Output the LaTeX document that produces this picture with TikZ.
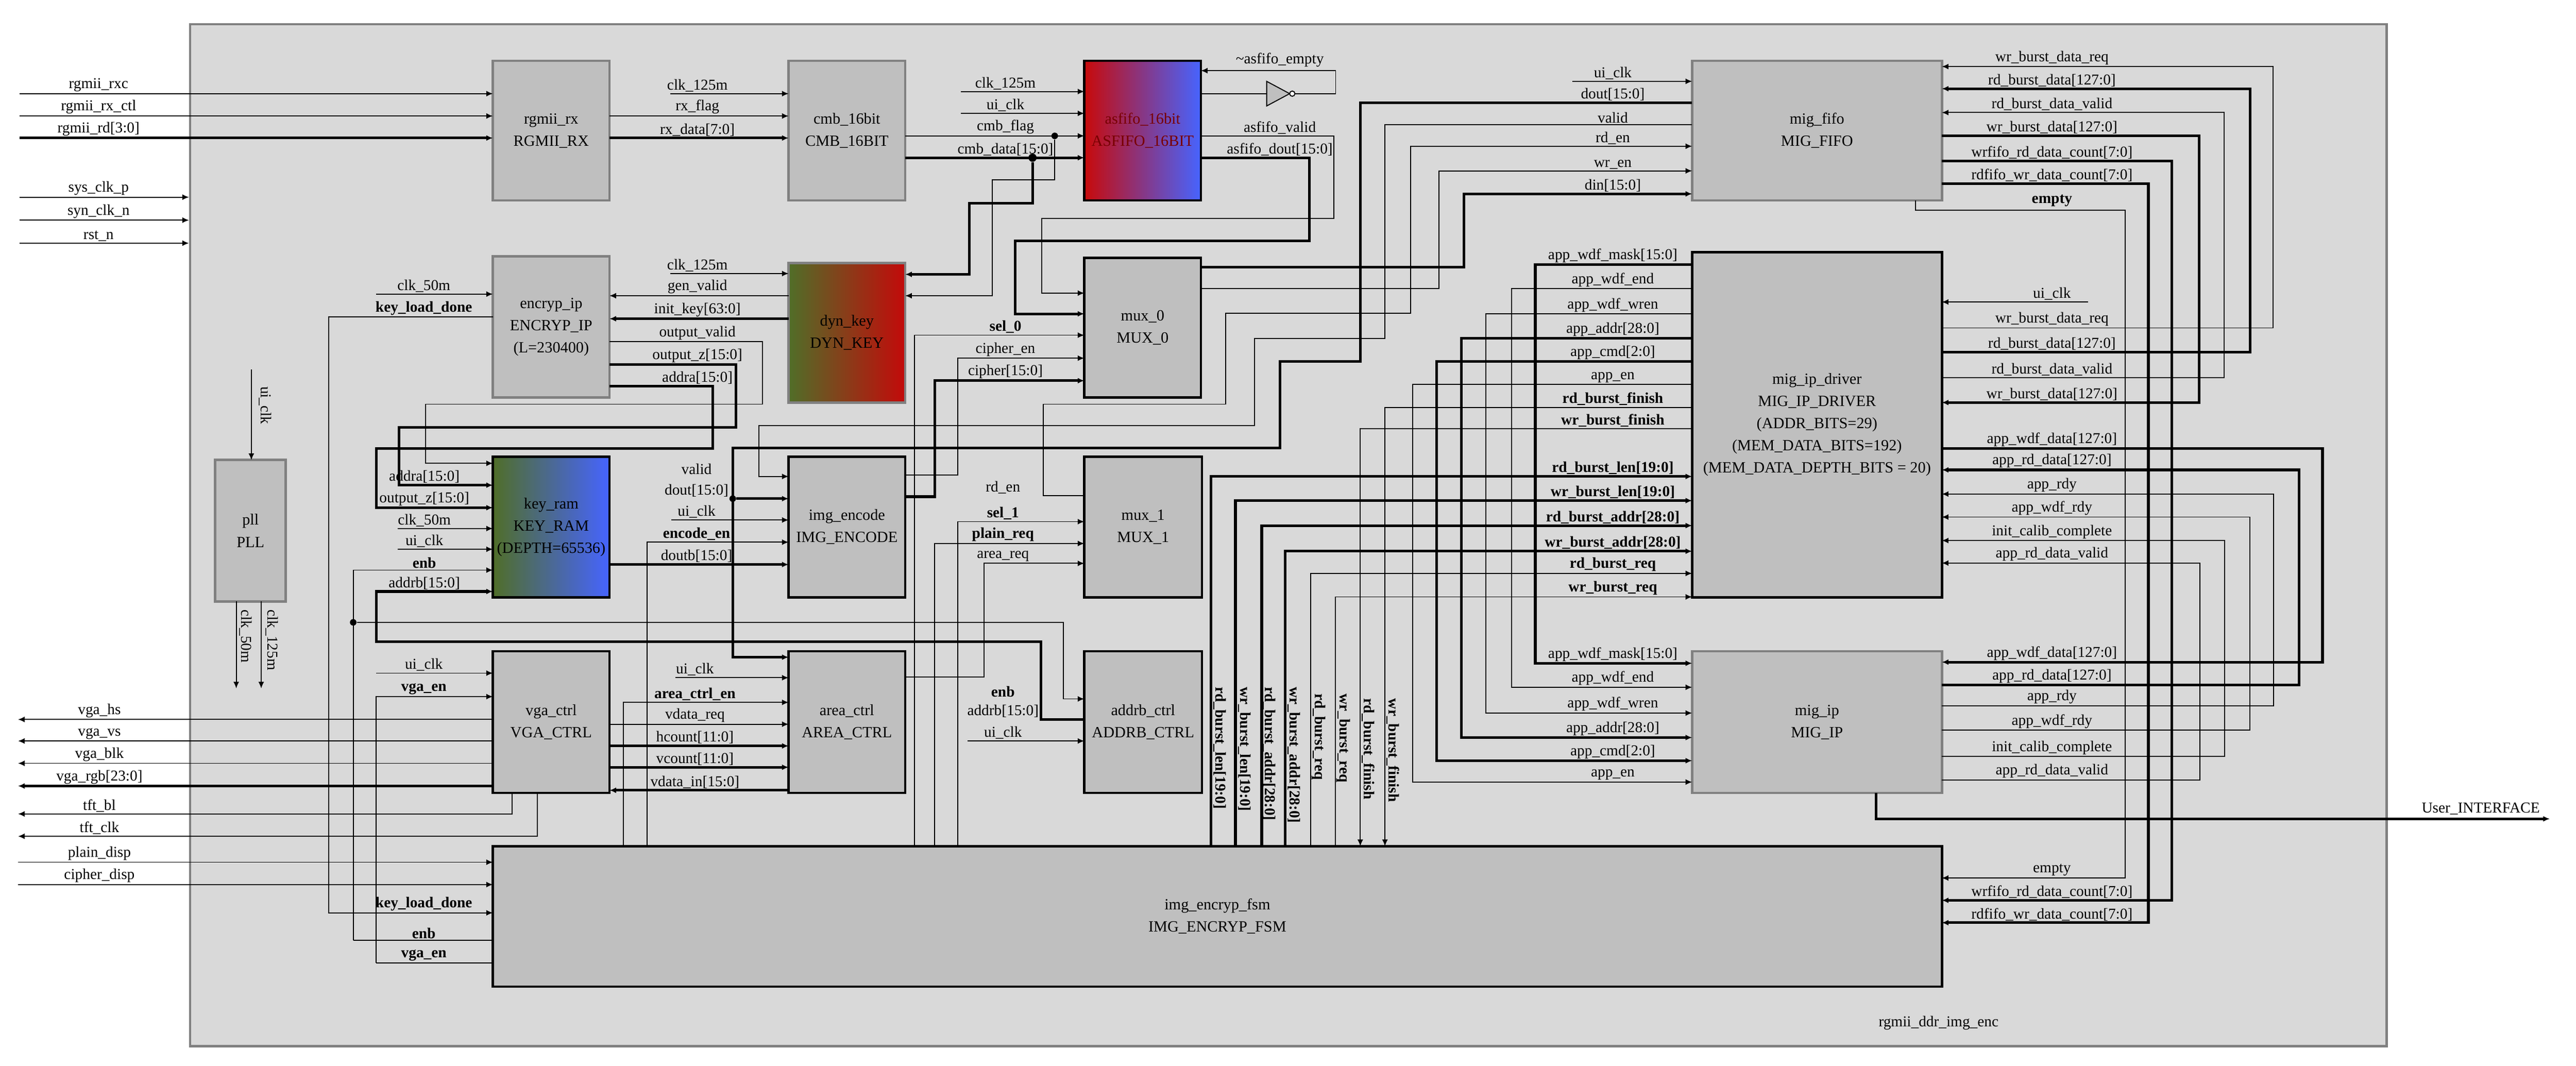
\documentclass[tikz,border=0pt]{standalone}
\usepackage{fontspec}
\setmainfont{Liberation Serif}
\usetikzlibrary{arrows.meta}
\definecolor{boxg}{RGB}{191,191,191}
\definecolor{bordg}{RGB}{128,128,128}
\definecolor{bgg}{RGB}{217,217,217}
\definecolor{gred}{RGB}{200,10,10}
\definecolor{gpink}{RGB}{225,175,175}
\definecolor{gblue}{RGB}{70,100,255}
\definecolor{ggreen}{RGB}{80,110,40}
\definecolor{glgreen}{RGB}{195,215,160}
\definecolor{gred2}{RGB}{195,10,10}
\definecolor{dred}{RGB}{120,0,0}
\begin{document}
\begin{tikzpicture}[x=1pt,y=-1pt,
  >={Latex[length=4pt,width=3.5pt]},
  s/.style={line width=0.6pt},
  S/.style={line width=1.6pt},
  lab/.style={font=\fontsize{9.2}{10}\selectfont,inner sep=1pt,anchor=south},
  blab/.style={lab,font=\fontsize{9.2}{10}\selectfont\bfseries},
  vlab/.style={font=\fontsize{9.2}{10}\selectfont\bfseries,inner sep=1pt,anchor=west,rotate=-90},
  box/.style={draw=black,line width=1.5pt,fill=boxg,anchor=north west,inner sep=0pt,outer sep=0pt,align=center,font=\fontsize{9.5}{13.5}\selectfont},
  gbox/.style={box,draw=bordg},
  dot/.style={circle,fill=black,inner sep=0pt,minimum size=4pt}]
\newcounter{lb}
\newcommand\lab[4][lab]{\stepcounter{lb}\node[#1] (l\thelb) at (#2,#3) {#4};}
\useasboundingbox (0,0) rectangle (1568,648.6);
% outer
\node[draw=bordg,line width=1.5pt,fill=bgg,anchor=north west,minimum width=1337pt,minimum height=622pt,inner sep=0pt] (top) at (115,14) {};
\lab{1180}{628}{rgmii\_ddr\_img\_enc}
% boxes
\node[gbox,minimum width=71pt,minimum height=85pt] (rgmii) at (300,37) {rgmii\_rx\\RGMII\_RX};
\node[gbox,minimum width=71pt,minimum height=85pt] (cmb) at (480,37) {cmb\_16bit\\CMB\_16BIT};
\node[box,minimum width=71pt,minimum height=85pt,left color=gred,middle color=gpink,right color=gblue,text=dred] (asfifo) at (660,37) {asfifo\_16bit\\ASFIFO\_16BIT};
\node[gbox,minimum width=152pt,minimum height=85pt] (migfifo) at (1030,37) {mig\_fifo\\MIG\_FIFO};
\node[gbox,minimum width=71pt,minimum height=86pt] (encryp) at (300,156) {encryp\_ip\\ENCRYP\_IP\\(L=230400)};
\node[gbox,minimum width=71pt,minimum height=85pt,left color=ggreen,middle color=glgreen,right color=gred2] (dynkey) at (480,160) {dyn\_key\\DYN\_KEY};
\node[box,minimum width=71pt,minimum height=85pt] (mux0) at (660,157) {mux\_0\\MUX\_0};
\node[box,minimum width=152pt,minimum height=210pt] (driver) at (1030,153.5) {mig\_ip\_driver\\MIG\_IP\_DRIVER\\(ADDR\_BITS=29)\\(MEM\_DATA\_BITS=192)\\(MEM\_DATA\_DEPTH\_BITS = 20)};
\node[box,minimum width=71pt,minimum height=85.5pt,left color=ggreen,middle color=glgreen,right color=gblue] (keyram) at (300,278) {key\_ram\\KEY\_RAM\\(DEPTH=65536)};
\node[box,minimum width=71pt,minimum height=85.5pt] (imgenc) at (480,278) {img\_encode\\IMG\_ENCODE};
\node[box,minimum width=71.6pt,minimum height=85.5pt] (mux1) at (660,278) {mux\_1\\MUX\_1};
\node[gbox,minimum width=43pt,minimum height=86pt] (pll) at (131,280) {pll\\PLL};
\node[box,minimum width=71pt,minimum height=86.2pt] (vga) at (300,396.4) {vga\_ctrl\\VGA\_CTRL};
\node[box,minimum width=71pt,minimum height=86.2pt] (area) at (480,396.4) {area\_ctrl\\AREA\_CTRL};
\node[box,minimum width=71.6pt,minimum height=86.2pt] (addrb) at (660,396.4) {addrb\_ctrl\\ADDRB\_CTRL};
\node[gbox,minimum width=152pt,minimum height=86.2pt] (migip) at (1030,396.4) {mig\_ip\\MIG\_IP};
\node[box,minimum width=882pt,minimum height=85.5pt] (fsm) at (300,515) {img\_encryp\_fsm\\IMG\_ENCRYP\_FSM};
% ---- left inputs
\coordinate (i1) at (12,57);\coordinate (i2) at (12,70.6);\coordinate (i3) at (12,84);
\draw[s,->] (i1) -- (300,57); \lab{60}{57}{rgmii\_rxc}
\draw[s,->] (i2) -- (300,70.6); \lab{60}{70.6}{rgmii\_rx\_ctl}
\draw[S,->] (i3) -- (300,84); \lab{60}{84}{rgmii\_rd[3:0]}
\draw[s,->] (12,120) -- (115,120); \lab{60}{120}{sys\_clk\_p}
\draw[s,->] (12,134) -- (115,134); \lab{60}{134}{syn\_clk\_n}
\draw[s,->] (12,148) -- (115,148); \lab{60}{148}{rst\_n}
% rgmii -> cmb
\draw[s,->] (408,57) -- (480,57); \lab{424.5}{57}{clk\_125m}
\draw[s,->] (371,70.6) -- (480,70.6); \lab{424.5}{70.6}{rx\_flag}
\draw[S,->] (371,84) -- (480,84); \lab{424.5}{84}{rx\_data[7:0]}
% cmb -> asfifo
\draw[s,->] (585,55.7) -- (660,55.7); \lab{612}{55.7}{clk\_125m}
\draw[s,->] (585,69) -- (660,69); \lab{612}{69}{ui\_clk}
\draw[s,->] (551,82.7) -- (660,82.7); \lab{612}{82.7}{cmb\_flag}
\draw[S,->] (551,96) -- (660,96); \lab{612}{96}{cmb\_data[15:0]}
\node[dot] (d1) at (642,82.7) {}; \node[dot,minimum size=5pt] (d2) at (628.5,96) {};
\draw[s,->] (d1) -- (642,109.5) -- (604,109.5) -- (604,180) -- (551,180);
\draw[S,->] (d2) -- (628.5,123.6) -- (590,123.6) -- (590,167) -- (551,167);
% inverter loop
\draw[s] (731,57) -- (771,57);
\draw[s,fill=boxg] (771,49.5) -- (785,57) -- (771,64.5) -- cycle;
\draw[s,fill=white] (786.6,57) circle (1.6);
\draw[s,->] (788.2,57) -- (813,57) -- (813,43) -- (731,43);
\lab{779}{42}{\textasciitilde asfifo\_empty}
\draw[s,->] (731,82.7) -- (812,82.7) -- (812,133) -- (634,133) -- (634,178.4) -- (660,178.4); \lab{779}{82.7}{asfifo\_valid}
\draw[S,->] (731,96) -- (797,96) -- (797,146.7) -- (618,146.7) -- (618,191) -- (660,191); \lab{779}{96}{asfifo\_dout[15:0]}
\draw[s,->] (556.5,515) -- (556.5,204) -- (660,204); \lab[blab]{612}{204}{sel\_0}
\draw[s,->] (551,289) -- (583,289) -- (583,218) -- (660,218); \lab{612}{218}{cipher\_en}
\draw[S,->] (551,302.3) -- (569,302.3) -- (569,231.7) -- (660,231.7); \lab{612}{231.7}{cipher[15:0]}
% mux0 / mux1 -> mig_fifo
\draw[s,->] (957,49.5) -- (1030,49.5); \lab{981.7}{49.5}{ui\_clk}
\draw[S,->] (1030,62.5) -- (828,62.5) -- (828,220) -- (779,220) -- (779,272.6) -- (446,272.6) -- (446,400) -- (480,400); \lab{981.7}{62.5}{dout[15:0]}
\node[dot] (d3) at (446,303.5) {};
\draw[S,->] (d3) -- (480,303.5);
\draw[s,->] (1030,76) -- (843,76) -- (843,206) -- (763.5,206) -- (763.5,259) -- (462,259) -- (462,290) -- (480,290); \lab{981.7}{76}{valid}
\draw[s,->] (660,301.6) -- (635,301.6) -- (635,246) -- (746,246) -- (746,190.6) -- (858.5,190.6) -- (858.5,89) -- (1030,89); \lab{981.7}{89}{rd\_en}
\draw[s,->] (731,175.7) -- (876,175.7) -- (876,104) -- (1030,104); \lab{981.7}{104}{wr\_en}
\draw[S,->] (731,162.5) -- (891,162.5) -- (891,118) -- (1030,118); \lab{981.7}{118}{din[15:0]}
% mig_fifo right <-> driver
\draw[s,->] (1182,199.6) -- (1383.7,199.6) -- (1383.7,40.5) -- (1182,40.5);
\lab{1249}{40.5}{wr\_burst\_data\_req}\lab{1249}{199.6}{wr\_burst\_data\_req}
\draw[S,->] (1182,214.4) -- (1369.5,214.4) -- (1369.5,54) -- (1182,54);
\lab{1249}{54}{rd\_burst\_data[127:0]}\lab{1249}{214.4}{rd\_burst\_data[127:0]}
\draw[s,->] (1182,230) -- (1353.8,230) -- (1353.8,68.5) -- (1182,68.5);
\lab{1249}{68.5}{rd\_burst\_data\_valid}\lab{1249}{230}{rd\_burst\_data\_valid}
\draw[S,->] (1182,82.7) -- (1338.6,82.7) -- (1338.6,245) -- (1182,245);
\lab{1249}{82.7}{wr\_burst\_data[127:0]}\lab{1249}{245}{wr\_burst\_data[127:0]}
\draw[S,->] (1182,98) -- (1322,98) -- (1322,548) -- (1182,548);
\lab{1249}{98}{wrfifo\_rd\_data\_count[7:0]}\lab{1249}{548}{wrfifo\_rd\_data\_count[7:0]}
\draw[S,->] (1182,111.7) -- (1307.7,111.7) -- (1307.7,561.6) -- (1182,561.6);
\lab{1249}{111.7}{rdfifo\_wr\_data\_count[7:0]}\lab{1249}{561.6}{rdfifo\_wr\_data\_count[7:0]}
\draw[s,->] (1166,122) -- (1166,128) -- (1293.7,128) -- (1293.7,534.4) -- (1182,534.4);
\lab[blab]{1249}{127}{empty}\lab{1249}{534.4}{empty}
\draw[s,->] (1271,183.8) -- (1182,183.8); \lab{1249}{183.8}{ui\_clk}
% driver right <-> mig_ip
\draw[S,->] (1182,273) -- (1413.7,273) -- (1413.7,403) -- (1182,403);
\lab{1249}{273}{app\_wdf\_data[127:0]}\lab{1249}{403}{app\_wdf\_data[127:0]}
\draw[S,->] (1182,417) -- (1399.5,417) -- (1399.5,286) -- (1182,286);
\lab{1249}{286}{app\_rd\_data[127:0]}\lab{1249}{417}{app\_rd\_data[127:0]}
\draw[s,->] (1182,429.6) -- (1384,429.6) -- (1384,300.7) -- (1182,300.7);
\lab{1249}{300.7}{app\_rdy}\lab{1249}{429.6}{app\_rdy}
\draw[s,->] (1182,444.5) -- (1369.6,444.5) -- (1369.6,314.7) -- (1182,314.7);
\lab{1249}{314.7}{app\_wdf\_rdy}\lab{1249}{444.5}{app\_wdf\_rdy}
\draw[s,->] (1182,460.4) -- (1354,460.4) -- (1354,329) -- (1182,329);
\lab{1249}{329}{init\_calib\_complete}\lab{1249}{460.4}{init\_calib\_complete}
\draw[s,->] (1182,474.8) -- (1339,474.8) -- (1339,342.7) -- (1182,342.7);
\lab{1249}{342.7}{app\_rd\_data\_valid}\lab{1249}{474.8}{app\_rd\_data\_valid}
% driver left -> mig_ip
\draw[S,->] (1030,161) -- (934.5,161) -- (934.5,403.7) -- (1030,403.7);
\lab{981.7}{161}{app\_wdf\_mask[15:0]}\lab{981.7}{403.7}{app\_wdf\_mask[15:0]}
\draw[s,->] (1030,175.7) -- (920,175.7) -- (920,418.3) -- (1030,418.3);
\lab{981.7}{175.7}{app\_wdf\_end}\lab{981.7}{418.3}{app\_wdf\_end}
\draw[s,->] (1030,191) -- (904.5,191) -- (904.5,434) -- (1030,434);
\lab{981.7}{191}{app\_wdf\_wren}\lab{981.7}{434}{app\_wdf\_wren}
\draw[S,->] (1030,206) -- (889.6,206) -- (889.6,448.9) -- (1030,448.9);
\lab{981.7}{206}{app\_addr[28:0]}\lab{981.7}{448.9}{app\_addr[28:0]}
\draw[S,->] (1030,220) -- (874.6,220) -- (874.6,463) -- (1030,463);
\lab{981.7}{220}{app\_cmd[2:0]}\lab{981.7}{463}{app\_cmd[2:0]}
\draw[s,->] (1030,234) -- (860,234) -- (860,476) -- (1030,476);
\lab{981.7}{234}{app\_en}\lab{981.7}{476}{app\_en}
\draw[s,->] (1030,248) -- (843,248) -- (843,515); \lab[blab]{981.7}{248}{rd\_burst\_finish}
\draw[s,->] (1030,261) -- (828,261) -- (828,515); \lab[blab]{981.7}{261}{wr\_burst\_finish}
% fsm -> driver
\draw[S,->] (737,515) -- (737,290) -- (1030,290); \lab[blab]{981.7}{290}{rd\_burst\_len[19:0]}
\draw[S,->] (752,515) -- (752,304.7) -- (1030,304.7); \lab[blab]{981.7}{304.7}{wr\_burst\_len[19:0]}
\draw[S,->] (768,515) -- (768,319.9) -- (1030,319.9); \lab[blab]{981.7}{319.9}{rd\_burst\_addr[28:0]}
\draw[S,->] (782.3,515) -- (782.3,335.5) -- (1030,335.5); \lab[blab]{981.7}{335.5}{wr\_burst\_addr[28:0]}
\draw[s,->] (797.8,515) -- (797.8,349) -- (1030,349); \lab[blab]{981.7}{349}{rd\_burst\_req}
\draw[s,->] (812.7,515) -- (812.7,363.3) -- (1030,363.3); \lab[blab]{981.7}{363.3}{wr\_burst\_req}
\lab[vlab]{742.5}{417}{rd\_burst\_len[19:0]}
\lab[vlab]{757.5}{417}{wr\_burst\_len[19:0]}
\lab[vlab]{772.5}{417}{rd\_burst\_addr[28:0]}
\lab[vlab]{787.5}{417}{wr\_burst\_addr[28:0]}
\lab[vlab]{802.6}{421}{rd\_burst\_req}
\lab[vlab]{817.6}{421}{wr\_burst\_req}
\lab[vlab]{832.8}{424}{rd\_burst\_finish}
\lab[vlab]{847.8}{424}{wr\_burst\_finish}
% encryp / dyn_key
\draw[s,->] (229,179) -- (300,179); \lab{258}{179}{clk\_50m}
\draw[s,->] (300,193) -- (200,193) -- (200,555.6) -- (300,555.6);
\lab[blab]{258}{193}{key\_load\_done}\lab[blab]{258}{555.6}{key\_load\_done}
\draw[s,->] (408,166.5) -- (480,166.5); \lab{424.5}{166.5}{clk\_125m}
\draw[s,->] (480,180) -- (371,180); \lab{424.5}{180}{gen\_valid}
\draw[S,->] (480,194) -- (371,194); \lab{424.5}{194}{init\_key[63:0]}
\draw[s,->] (371,208) -- (464,208) -- (464,246) -- (259,246) -- (259,282) -- (300,282); \lab{424.5}{208}{output\_valid}
\draw[S,->] (371,222) -- (448,222) -- (448,260) -- (243,260) -- (243,295.3) -- (300,295.3); \lab{424.5}{222}{output\_z[15:0]}
\draw[S,->] (371,235) -- (434,235) -- (434,273) -- (229,273) -- (229,309) -- (300,309); \lab{424.5}{235}{addra[15:0]}
% key_ram
\lab{258.3}{295.3}{addra[15:0]}\lab{258.3}{309}{output\_z[15:0]}
\draw[s,->] (242,321.7) -- (300,321.7); \lab{258.3}{321.7}{clk\_50m}
\draw[s,->] (242,334.3) -- (300,334.3); \lab{258.3}{334.3}{ui\_clk}
\draw[s,->] (215,572.4) -- (215,347) -- (300,347); \lab[blab]{258.3}{347}{enb}
\node[dot] (d4) at (215,378.8) {};
\draw[s,->] (d4) -- (647.3,378.8) -- (647.3,425.4) -- (660,425.4); \lab[blab]{610.5}{425.4}{enb}
\draw[S,->] (660,438) -- (633.7,438) -- (633.7,390.6) -- (229,390.6) -- (229,360) -- (300,360); \lab{258.3}{360}{addrb[15:0]}\lab{610.5}{438}{addrb[15:0]}
\draw[s,->] (588.8,451) -- (660,451); \lab{610.5}{451}{ui\_clk}
% img_encode
\lab{424}{290}{valid}\lab{424}{303.5}{dout[15:0]}
\draw[s,->] (408.7,316.5) -- (480,316.5); \lab{424}{316.5}{ui\_clk}
\draw[s,->] (394,515) -- (394,330) -- (480,330); \lab[blab]{424}{330}{encode\_en}
\draw[S,->] (371,343.6) -- (480,343.6); \lab{424}{343.6}{doutb[15:0]}
% mux_1
\lab{610.5}{301.6}{rd\_en}
\draw[s,->] (583,515) -- (583,317.5) -- (660,317.5); \lab[blab]{610.5}{317.5}{sel\_1}
\draw[s,->] (569,515) -- (569,330.8) -- (660,330.8); \lab[blab]{610.5}{330.8}{plain\_req}
\draw[s,->] (551,412) -- (599,412) -- (599,342.9) -- (660,342.9); \lab{610.5}{342.9}{area\_req}
% area_ctrl
\draw[s,->] (411,412.5) -- (480,412.5); \lab{423}{412.5}{ui\_clk}
\draw[s,->] (379.4,515) -- (379.4,427.5) -- (480,427.5); \lab[blab]{423}{427.5}{area\_ctrl\_en}
\draw[s,->] (371,440.8) -- (480,440.8); \lab{423}{440.8}{vdata\_req}
\draw[S,->] (371,454) -- (480,454); \lab{423}{454}{hcount[11:0]}
\draw[S,->] (371,467) -- (480,467); \lab{423}{467}{vcount[11:0]}
\draw[S,->] (480,481) -- (371,481); \lab{423}{481}{vdata\_in[15:0]}
% vga
\draw[s,->] (229,409.7) -- (300,409.7); \lab{258}{409.7}{ui\_clk}
\draw[s,->] (229,586) -- (229,424) -- (300,424); \lab[blab]{258}{424}{vga\_en}
\draw[s,->] (300,437.9) -- (11,437.9); \lab{60.5}{437.9}{vga\_hs}
\draw[s,->] (300,451) -- (11,451); \lab{60.5}{451}{vga\_vs}
\draw[s,->] (300,464.6) -- (11,464.6); \lab{60.5}{464.6}{vga\_blk}
\draw[S,->] (300,478.4) -- (11,478.4); \lab{60.5}{478.4}{vga\_rgb[23:0]}
\draw[s,->] (311.8,482.6) -- (311.8,495.4) -- (11,495.4); \lab{60.5}{495.4}{tft\_bl}
\draw[s,->] (327,482.6) -- (327,509) -- (11,509); \lab{60.5}{509}{tft\_clk}
\draw[s,->] (11,524.8) -- (300,524.8); \lab{60.5}{524.8}{plain\_disp}
\draw[s,->] (11,538.4) -- (300,538.4); \lab{60.5}{538.4}{cipher\_disp}
\draw[s] (215,572.4) -- (300,572.4); \lab[blab]{258}{572.4}{enb}
\draw[s] (229,586) -- (300,586); \lab[blab]{258}{586}{vga\_en}
% pll
\draw[s,->] (153,225) -- (153,280);
\node[font=\fontsize{9.2}{10}\selectfont,inner sep=1pt,anchor=west,rotate=-90] (p1) at (161.5,234) {ui\_clk};
\draw[s,->] (143.8,366) -- (143.8,419);
\draw[s,->] (159,366) -- (159,419);
\node[font=\fontsize{9.2}{10}\selectfont,inner sep=1pt,anchor=west,rotate=-90] (p2) at (149.5,370) {clk\_50m};
\node[font=\fontsize{9.2}{10}\selectfont,inner sep=1pt,anchor=west,rotate=-90] (p3) at (165.5,370) {clk\_125m};
% user interface
\coordinate (ui) at (1552,498.4);
\draw[S,->] (1142,482.6) -- (1142,498.4) -- (ui); \lab{1510}{497}{User\_INTERFACE}
\end{tikzpicture}
\end{document}
